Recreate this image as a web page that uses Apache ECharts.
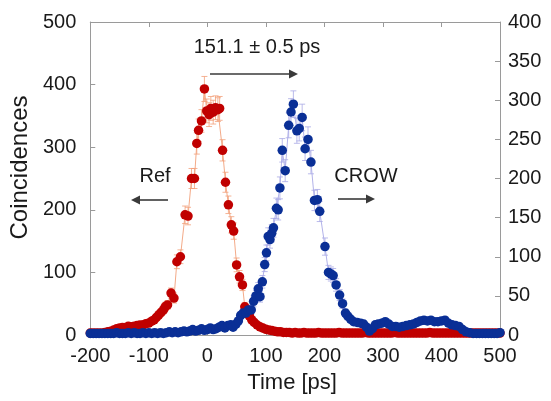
<!DOCTYPE html>
<html><head><meta charset="utf-8">
<script src="https://cdn.jsdelivr.net/npm/echarts@6/dist/echarts.min.js"></script>
<style>html,body{margin:0;padding:0;background:#fff}#c{width:551px;height:401px}</style>
</head><body><div id="c"></div>
<script>
// ---- Data ----
const refTime = [-200,-195,-190,-185,-180,-175,-170,-165,-160,-155,-150,-145,-140,-135,-130,-125,-120,-115,-110,-105,-100,-95,-91,-87,-83,-79,-75,-72,-68,-62,-57,-52,-46,-38,-33,-27,-22,-18,-15,-10,-5,-1,3,6,10,14,18,21,26,31,36,41,45,50,55,60,64,68,72,76,80,85,90,95,100,105,110,115,120,125,130,
135,140,145,150,155,160,165,170,175,180,185,190,195,200,205,210,215,220,225,230,235,240,245,250,255,260,265,270,275,280,285,290,295,300,305,310,315,320,325,330,335,340,345,350,355,360,365,370,375,380,385,390,395,400,405,410,415,420,425,430,435,440,445,450,455,460,465,470,475,480,485,490,495,500];
const refCounts = [3,3,3,3,3,4,5,6,8,10,11,12,12,14,13,14,15,16,16,18,19,22,24,28,32,36,40,45,48,67,59,117,125,192,190,250,250,306,327,342,393,358,352,362,356,363,360,362,295,244,208,176,166,112,93,80,45,38,30,24,20,16,13,11,9,8,7,6,5,5,4,
4,4,3,4,3,3,4,3,3,3,3,4,3,3,3,3,3,3,4,3,3,3,3,3,3,3,3,4,3,3,3,3,3,3,3,3,3,4,3,3,3,3,3,3,3,3,3,3,3,4,3,3,3,3,3,3,3,3,3,3,3,3,3,3,3,3,3,3,3,3,3,3,3,3,3,3,3,3,3];
const refErr = [2,2,2,2,2,2,2,2,3,3,3,3,3,4,4,4,4,4,4,4,4,5,5,5,6,6,6,7,7,8,8,11,11,14,14,16,16,17,18,18,20,19,19,19,19,19,19,19,17,16,14,13,13,11,10,9,7,6,5,5,4,4,4,3,3,3,3,2,2,2,2,
2,2,2,2,2,2,2,2,2,2,2,2,2,2,2,2,2,2,2,2,2,2,2,2,2,2,2,2,2,2,2,2,2,2,2,2,2,2,2,2,2,2,2,2,2,2,2,2,2,2,2,2,2,2,2,2,2,2,2,2,2,2,2,2,2,2,2,2,2,2,2,2,2,2,2,2,2,2,2];

const crowTime = [-200,-195,-190,-185,-180,-175,-170,-165,-160,-155,-150,-145,-140,-135,-130,-125,-120,-115,-110,-105,-100,-95,-90,-85,-80,-75,-70,-65,-60,-55,-50,-45,-40,-35,-30,-25,-20,-15,-10,-5,0,5,10,15,20,25,30,35,40,
44,49,53,57,61,66,70,75,79,83,87,90,94,98,101,104,107,110,113,118,121,124,128,133,139,143,147,153,157,162,167,172,177,183,188,192,201,207,211,215,220,226,231,236,240,245,250,256,262,267,272,277,282,287,292,298,304,310,316,322,328,334,340,346,352,358,364,370,376,382,388,394,400,406,412,418,424,430,436,442,448,454,460,465,470,475,480,485,490,495,500];
const crowCounts = [2,2,2,2,2,2,2,2,2,3,2,2,2,3,2,3,2,2,3,2,3,2,3,2,3,2,3,4,3,4,3,4,5,4,5,7,5,6,8,6,7,9,7,8,10,12,9,12,13,
10,14,18,25,28,28,32,32,43,50,59,49,68,90,105,126,122,130,137,162,160,188,236,210,268,285,295,261,264,278,238,250,221,172,173,158,113,80,78,76,64,51,40,28,24,20,17,16,15,14,10,5,8,13,14,15,17,14,11,11,10,11,12,13,14,16,18,19,18,19,17,17,18,19,15,13,12,11,7,4,3,2,2,2,2,2,2,2,2,2,3];
const crowErr = [1,1,1,1,1,1,1,1,1,2,1,1,1,2,1,2,1,1,2,1,2,1,2,1,2,1,2,2,2,2,2,2,2,2,2,3,2,2,3,2,3,3,3,3,3,3,3,3,4,
3,4,4,5,5,5,6,6,7,7,8,7,8,9,10,11,11,11,12,13,13,14,15,14,16,17,17,16,16,17,15,16,15,13,13,13,11,9,9,9,8,7,6,5,5,4,4,4,4,4,3,2,3,4,4,4,4,4,3,3,3,3,3,4,4,4,4,4,4,4,4,4,4,4,4,4,3,3,3,2,2,1,1,1,1,1,1,1,1,1,2];

const xTicks = {min: -200, max: 500, step: 100};
const yLeftTicks = {min: 0, max: 500, step: 100};
const yRightTicks = {min: 0, max: 400, step: 50};

// ---- Styles ----
const RED = '#c00000', RED_LIGHT = '#f2a07a';
const BLUE = '#0a2f96', BLUE_LIGHT = '#a9a9e6';
const AXIS = '#9a9a9a', TXT = '#1a1a1a', FONT = 'Liberation Sans, Arial, sans-serif';

const refPts = refTime.map((t, i) => [t, refCounts[i], refErr[i]]);
const crowPts = crowTime.map((t, i) => [t, crowCounts[i], crowErr[i]]);

function errRender(color) {
  return function (params, api) {
    const x = api.value(0), y = api.value(1), e = api.value(2);
    const top = api.coord([x, y + e]);
    const bot = api.coord([x, Math.max(0, y - e)]);
    const c = 3;
    const st = {stroke: color, lineWidth: 0.8};
    return {type: 'group', children: [
      {type: 'line', shape: {x1: top[0], y1: top[1], x2: bot[0], y2: bot[1]}, style: st},
      {type: 'line', shape: {x1: top[0] - c, y1: top[1], x2: top[0] + c, y2: top[1]}, style: st},
      {type: 'line', shape: {x1: bot[0] - c, y1: bot[1], x2: bot[0] + c, y2: bot[1]}, style: st}
    ]};
  };
}

function arrow(x1, x2, y) {
  const dir = x2 > x1 ? 1 : -1;
  const L = 9, H = 4.5;
  return {type: 'group', children: [
    {type: 'line', shape: {x1: x1, y1: y, x2: x2 - dir * L * 0.6, y2: y}, style: {stroke: '#3a3a3a', lineWidth: 1.6}},
    {type: 'polygon', shape: {points: [[x2, y], [x2 - dir * L, y - H], [x2 - dir * L, y + H]]}, style: {fill: '#3a3a3a'}}
  ]};
}

const chart = echarts.init(document.getElementById('c'), null, {renderer: 'canvas'});
const axisCommon = {
  axisLine: {show: true, onZero: false, lineStyle: {color: AXIS, width: 1}},
  axisTick: {show: true, inside: true, length: 5, lineStyle: {color: AXIS}},
  splitLine: {show: false}
};
chart.setOption({
  animation: false,
  backgroundColor: '#fff',
  grid: {left: 90, right: 51, top: 22, bottom: 66},
  xAxis: [
    Object.assign({type: 'value', min: xTicks.min, max: xTicks.max, interval: xTicks.step, position: 'bottom',
      axisLabel: {fontSize: 20, color: TXT, margin: 11, fontFamily: FONT},
      name: 'Time [ps]', nameLocation: 'middle', nameGap: 37,
      nameTextStyle: {fontSize: 22, color: TXT, fontFamily: FONT, padding: [0, 6, 0, 0]}}, axisCommon),
    Object.assign({type: 'value', min: xTicks.min, max: xTicks.max, interval: xTicks.step, position: 'top',
      axisLabel: {show: false}}, axisCommon)
  ],
  yAxis: [
    Object.assign({type: 'value', min: yLeftTicks.min, max: yLeftTicks.max, interval: yLeftTicks.step, position: 'left',
      axisLabel: {fontSize: 20, color: TXT, margin: 14, fontFamily: FONT},
      name: 'Coincidences', nameLocation: 'middle', nameGap: 56,
      nameTextStyle: {fontSize: 24, color: TXT, fontFamily: FONT, padding: [0, 0, 0, 22]}}, axisCommon),
    Object.assign({type: 'value', min: yRightTicks.min, max: yRightTicks.max, interval: yRightTicks.step, position: 'right',
      axisLabel: {fontSize: 20, color: TXT, margin: 8, fontFamily: FONT}}, axisCommon)
  ],
  series: [
    {type: 'line', name: 'Ref line', data: refPts.map(p => [p[0], p[1]]), showSymbol: false, symbol: 'none',
      lineStyle: {color: RED_LIGHT, width: 0.9}, z: 1, silent: true},
    {type: 'custom', name: 'Ref err', data: refPts, renderItem: errRender(RED_LIGHT), z: 1, silent: true},
    {type: 'line', name: 'CROW line', yAxisIndex: 1, data: crowPts.map(p => [p[0], p[1]]), showSymbol: false, symbol: 'none',
      lineStyle: {color: BLUE_LIGHT, width: 0.9}, z: 1, silent: true},
    {type: 'custom', name: 'CROW err', yAxisIndex: 1, data: crowPts, renderItem: errRender(BLUE_LIGHT), z: 1, silent: true},
    {type: 'scatter', name: 'Ref', data: refPts.map(p => [p[0], p[1]]), symbolSize: 9.5,
      itemStyle: {color: RED, opacity: 1}, z: 3},
    {type: 'scatter', name: 'CROW', yAxisIndex: 1, data: crowPts.map(p => [p[0], p[1]]), symbolSize: 9.5,
      itemStyle: {color: BLUE, opacity: 1}, z: 4}
  ],
  graphic: [
    {type: 'text', x: 257, y: 47, style: {text: '151.1 ± 0.5 ps', fontSize: 20, fontFamily: FONT, fill: TXT, align: 'center', verticalAlign: 'middle'}},
    {type: 'text', x: 155, y: 176, style: {text: 'Ref', fontSize: 20, fontFamily: FONT, fill: TXT, align: 'center', verticalAlign: 'middle'}},
    {type: 'text', x: 366, y: 176, style: {text: 'CROW', fontSize: 20, fontFamily: FONT, fill: TXT, align: 'center', verticalAlign: 'middle'}},
    arrow(210, 298, 74),
    arrow(168, 131, 200),
    arrow(338, 375, 199)
  ]
});
</script>
</body></html>
